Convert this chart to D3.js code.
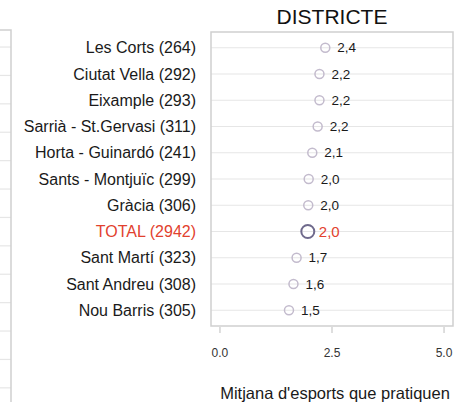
<!DOCTYPE html>
<html lang="ca">
<head>
    <meta charset="UTF-8">
    <title>Mitjana d'esports per districte</title>
    <script src="https://d3js.org/d3.v7.min.js"></script>
    <style>
        body { margin: 0; background: #fff; }
        svg { display: block; font-family: "Liberation Sans", Arial, sans-serif; }
        .grid { stroke: #e6e6e6; stroke-width: 1.2; }
        .frame { fill: none; stroke: #cfcfcf; stroke-width: 1.5; }
        .cat { font-size: 16px; fill: #1a1a1a; }
        .val { font-size: 13.5px; fill: #1a1a1a; }
        .tick-label { font-size: 12px; fill: #333; }
    </style>
</head>
<body>
<svg id="chart" width="454" height="402"></svg>
<script>
    // districts, top to bottom (sample size in brackets)
    const districts = [
        "Les Corts (264)", "Ciutat Vella (292)", "Eixample (293)",
        "Sarrià - St.Gervasi (311)", "Horta - Guinardó (241)", "Sants - Montjuïc (299)",
        "Gràcia (306)", "TOTAL (2942)", "Sant Martí (323)", "Sant Andreu (308)",
        "Nou Barris (305)"
    ];
    const means = [2.35, 2.22, 2.22, 2.18, 2.06, 1.98, 1.97, 1.96, 1.71, 1.64, 1.54];
    const xTicks = [0, 2.5, 5];
    const totalLabel = "TOTAL (2942)";
    // the neighbouring facet, cut off at the left edge
    const leftPanelRows = ["r1", "r2", "r3", "r4", "r5", "r6", "r7", "r8", "r9", "r10", "r11", "r12", "r13", "r14"];

    const svg = d3.select("#chart");
    const panel = {left: 211, right: 453, top: 32, bottom: 326};

    const x = d3.scaleLinear().domain([-0.2, 5.2]).range([panel.left, panel.right]);
    const y = d3.scalePoint().domain(districts).range([panel.top, panel.bottom]).padding(0.6);

    // left facet (only its right edge is visible)
    const yLeft = d3.scalePoint().domain(leftPanelRows).range([30, 30 + 28.4 * 14.2]).padding(0.6);
    svg.append("g").selectAll("line")
        .data(leftPanelRows)
        .join("line")
        .attr("class", "grid")
        .attr("x1", -10).attr("x2", 11)
        .attr("y1", d => yLeft(d)).attr("y2", d => yLeft(d));
    svg.append("rect")
        .attr("class", "frame")
        .attr("x", -20).attr("y", 30)
        .attr("width", 31).attr("height", 28.4 * 14.2);

    // main panel
    svg.append("g").selectAll("line")
        .data(districts)
        .join("line")
        .attr("class", "grid")
        .attr("x1", panel.left).attr("x2", panel.right)
        .attr("y1", d => y(d)).attr("y2", d => y(d));

    svg.append("rect")
        .attr("class", "frame")
        .attr("x", panel.left).attr("y", panel.top)
        .attr("width", panel.right - panel.left)
        .attr("height", panel.bottom - panel.top);

    svg.append("text")
        .attr("x", (panel.left + panel.right) / 2)
        .attr("y", 24)
        .attr("text-anchor", "middle")
        .style("font-size", "21px")
        .style("fill", "#111")
        .text("DISTRICTE");

    // category labels
    svg.append("g").selectAll("text")
        .data(districts)
        .join("text")
        .attr("class", "cat")
        .attr("x", 196)
        .attr("y", d => y(d))
        .attr("dy", "0.35em")
        .attr("text-anchor", "end")
        .style("fill", d => d === totalLabel ? "#e2412e" : null)
        .text(d => d);

    const fmt = v => d3.format(".1f")(v).replace(".", ",");

    svg.append("g").selectAll("circle")
        .data(districts)
        .join("circle")
        .attr("cx", (d, i) => x(means[i]))
        .attr("cy", d => y(d))
        .attr("r", d => d === totalLabel ? 6.5 : 4.5)
        .attr("fill", "none")
        .attr("stroke", d => d === totalLabel ? "#6f6a8c" : "#c3bbcd")
        .attr("stroke-width", d => d === totalLabel ? 2 : 1.5);

    svg.append("g").selectAll("text")
        .data(districts)
        .join("text")
        .attr("class", "val")
        .attr("x", (d, i) => x(means[i]) + (d === totalLabel ? 11 : 12))
        .attr("y", d => y(d))
        .attr("dy", "0.35em")
        .style("fill", d => d === totalLabel ? "#e2412e" : null)
        .style("font-size", d => d === totalLabel ? "15px" : null)
        .text((d, i) => fmt(means[i]));

    // x axis
    const axis = svg.append("g");
    axis.selectAll("line")
        .data(xTicks)
        .join("line")
        .attr("x1", d => x(d)).attr("x2", d => x(d))
        .attr("y1", panel.bottom + 1).attr("y2", panel.bottom + 7)
        .attr("stroke", "#c8c8c8")
        .attr("stroke-width", 1.2);
    axis.selectAll("text")
        .data(xTicks)
        .join("text")
        .attr("class", "tick-label")
        .attr("x", d => x(d))
        .attr("y", 357)
        .attr("text-anchor", "middle")
        .text(d => d3.format(".1f")(d));

    svg.append("text")
        .attr("x", (panel.left + panel.right) / 2 + 3)
        .attr("y", 399)
        .attr("text-anchor", "middle")
        .style("font-size", "16.5px")
        .style("fill", "#1a1a1a")
        .text("Mitjana d'esports que pratiquen");
</script>
</body>
</html>
